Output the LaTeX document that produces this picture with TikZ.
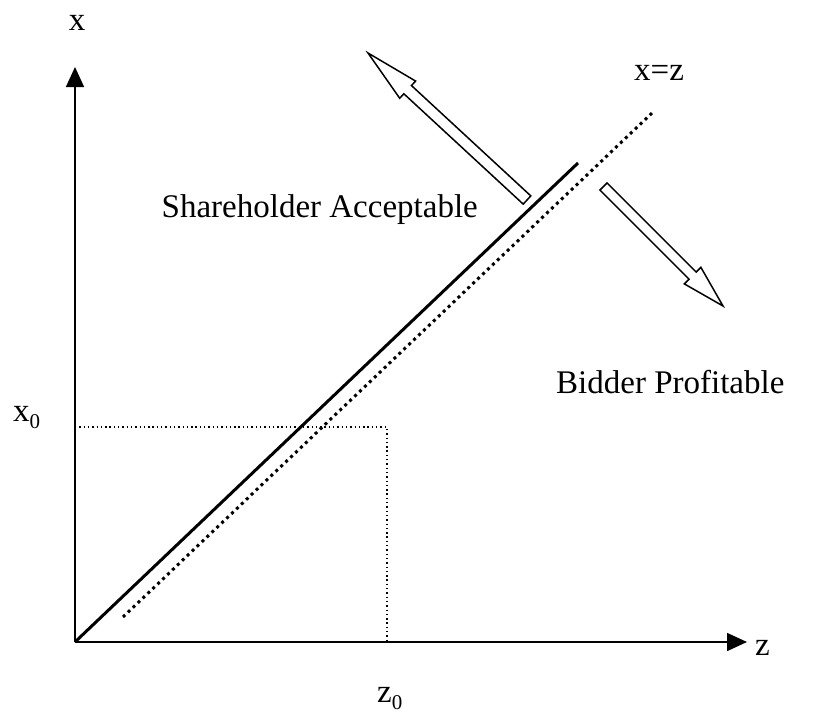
\documentclass[tikz,border=0pt]{standalone}
\usepackage{fontspec}
\setmainfont{Liberation Serif}
\usetikzlibrary{arrows.meta,calc}
\newcommand{\sbz}[1]{\raisebox{-7pt}{\fontsize{21}{21}\selectfont #1}}
\begin{document}
\begin{tikzpicture}[x=1pt,y=-1pt,
  lbl/.style={font=\fontsize{33}{36}\selectfont, inner sep=0pt},
  axisline/.style={line width=1.6pt, -{Triangle[length=20pt,width=18pt]}},
  hollow/.style={draw, line width=1.5pt, fill=white, line join=miter},
  solidline/.style={line width=3pt},
  dotline/.style={line width=3pt, dash pattern=on 3pt off 3.8pt},
  guide/.style={line width=1.1pt, dash pattern=on 1.4pt off 2.9pt}]
\useasboundingbox (0,0) rectangle (823,715);
% axes
\coordinate (O) at (75,642);
\coordinate (ytip) at (75,67);
\coordinate (xtip) at (747,642);
\draw[axisline] (O) -- (ytip);
\draw[axisline] (O) -- (xtip);
% labels
\node[lbl, anchor=base] (xl) at (77,30) {x};
\node[lbl, anchor=base west] (zl) at (755,655) {z};
\node[lbl, anchor=base west] (x0) at (13,421) {x\sbz{0}};
\node[lbl, anchor=base west] (z0) at (377,702) {z\sbz{0}};
\node[lbl, anchor=base west] (xz) at (634,80) {x=z};
\node[lbl, anchor=base east] (sa) at (478,217) {Shareholder Acceptable};
\node[lbl, anchor=base west] (bp) at (556,393) {Bidder Profitable};
% guide rectangle
\coordinate (gx) at (75,427);
\coordinate (gc) at (387,427);
\coordinate (gz) at (387,642);
\draw[guide] (gx) -- (gc) -- (gz);
% diagonal lines
\coordinate (s1) at (578,163);
\draw[solidline] (O) -- (s1);
\coordinate (d0) at (123,617);
\coordinate (d1) at (652,113);
\draw[dotline] (d0) -- (d1);
% hollow arrow 1
\coordinate (t1) at (527,200);
\coordinate (p1) at (368,53);
\coordinate (b1) at ($(p1)!54pt!(t1)$);
\draw[hollow] ($(t1)!5.6pt!90:(p1)$) -- ($(b1)!5.6pt!-90:(t1)$) -- ($(b1)!11.7pt!-90:(t1)$) -- (p1)
  -- ($(b1)!11.7pt!90:(t1)$) -- ($(b1)!5.6pt!90:(t1)$) -- ($(t1)!5.6pt!-90:(p1)$) -- cycle;
% hollow arrow 2
\coordinate (t2) at (603.5,186.5);
\coordinate (p2) at (723,306);
\coordinate (b2) at ($(p2)!43pt!(t2)$);
\draw[hollow] ($(t2)!5pt!90:(p2)$) -- ($(b2)!5pt!-90:(t2)$) -- ($(b2)!11.7pt!-90:(t2)$) -- (p2)
  -- ($(b2)!11.7pt!90:(t2)$) -- ($(b2)!5pt!90:(t2)$) -- ($(t2)!5pt!-90:(p2)$) -- cycle;
\end{tikzpicture}
\end{document}
